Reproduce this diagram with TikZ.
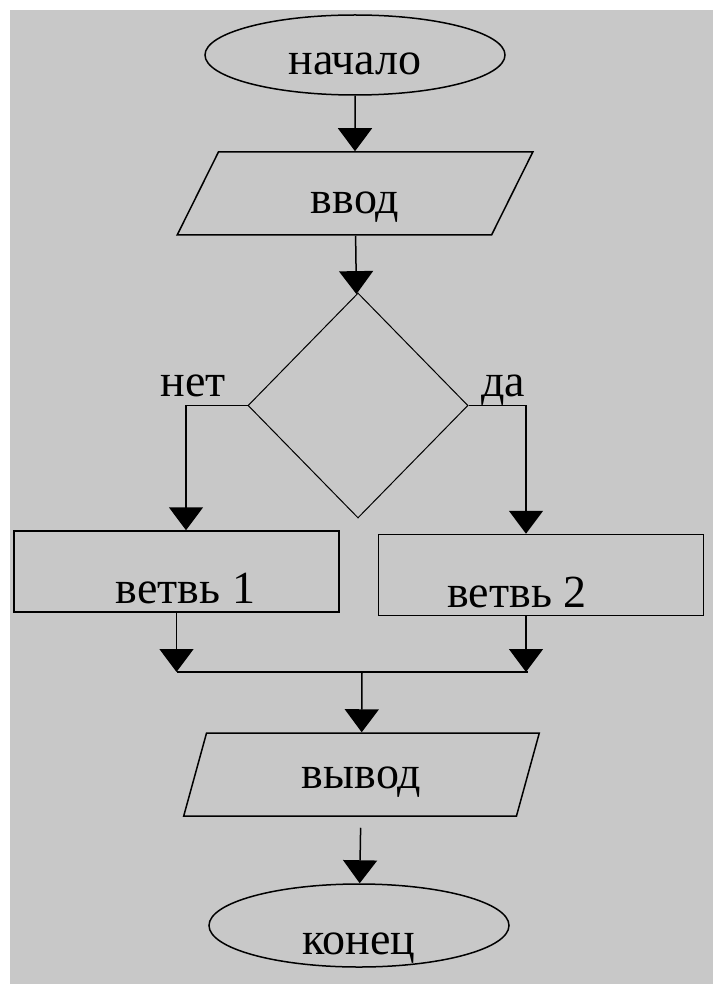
\documentclass[tikz,border=0pt]{standalone}
\usepackage{fontspec}
\setmainfont{Liberation Serif}
\usetikzlibrary{shapes.geometric,arrows.meta}

\definecolor{panel}{RGB}{200,200,200}

\begin{document}
\begin{tikzpicture}
  [x=1pt,y=-1pt,line width=1.5pt,
   every node/.style={font=\fontsize{46pt}{50pt}\selectfont,inner sep=0pt}]
  \tikzstyle{term} = [draw,ellipse,minimum width=300pt,minimum height=80pt]
  \tikzstyle{io} = [draw,trapezium,trapezium left angle=72,trapezium right angle=108,
                    trapezium stretches=true,minimum width=356pt,minimum height=83pt]
  \tikzstyle{decision} = [draw,diamond,line width=1pt,minimum width=220pt,minimum height=225pt]
  \tikzstyle{proc} = [draw,rectangle,minimum width=325pt,minimum height=81pt]
  \tikzstyle{flow} = [-{Triangle[width=34pt,length=23pt]}]

  \useasboundingbox (0,0) rectangle (713,984);
  \fill[panel] (10,10) rectangle (713,984);

  \node[term,text height=39pt,text depth=0pt] (beg) at (355,55) {начало};
  \node[io,text height=41pt,text depth=0pt] (inp) at (355,193.5) {ввод};
  \node[decision] (cond) at (358,405.5) {};
  \node (no) at (193,386) {нет};
  \node (yes) at (503,390) {да};
  \node[proc,label={[xshift=9pt,yshift=-17.5pt]center:ветвь 1}] (br1) at (176.5,571.5) {};
  \node[proc,label={[xshift=-24pt,yshift=-17.5pt]center:ветвь 2}] (br2) at (541,575) {};
  \node[io,text height=27pt,text depth=0pt] (outp) at (361.5,774.5) {вывод};
  \node[term,minimum height=83pt,text height=58pt,text depth=0pt] (fin) at (359,925.5) {конец};

  \coordinate (xl) at (186,400);
  \coordinate (xr) at (526,400);
  \coordinate (jm) at (362,672);

  \foreach \from/\to in {beg/inp,inp/cond}
    \draw[flow] (\from) -- (\to);

  \draw[flow] (cond.west) -| (br1.north -| xl);
  \draw[flow] (cond.east) -| (br2.north -| xr);
  \draw[flow] (br1) -- (br1 |- jm);
  \draw[flow] (br2.south -| xr) -- (xr |- jm);
  \draw (br1 |- jm) -- ([xshift=2pt]xr |- jm);
  \draw[flow] (jm) -- (outp);
  \draw[flow,shorten <=11pt] (outp) -- (fin);

\end{tikzpicture}
\end{document}
